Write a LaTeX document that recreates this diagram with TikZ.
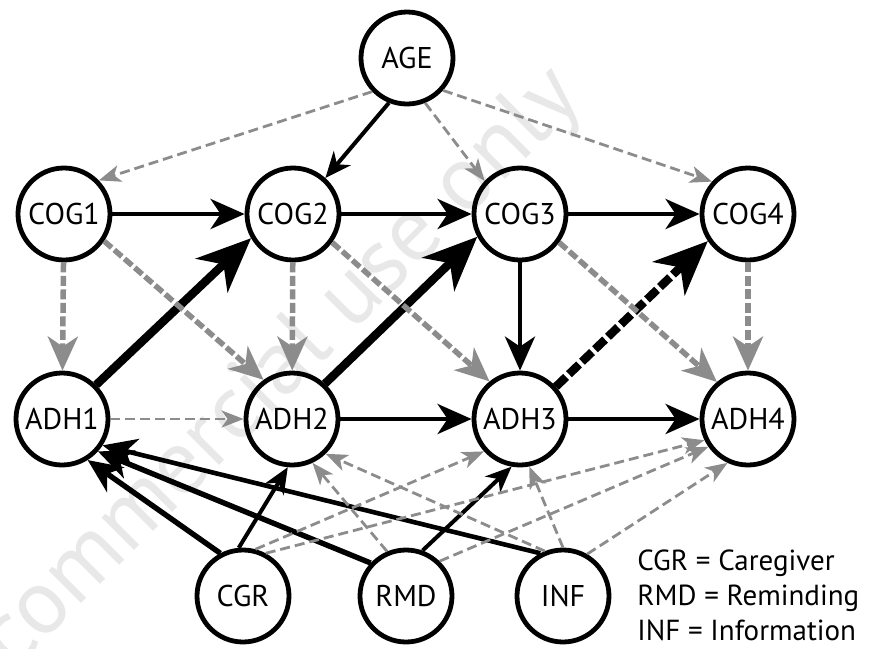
\documentclass[tikz,border=0pt]{standalone}
\usepackage{fontspec}
\setmainfont{PT Sans}
\usetikzlibrary{arrows.meta}
\definecolor{lightline}{HTML}{8C8C8C}
\definecolor{stamp}{HTML}{E8E8E8}
\begin{document}
\begin{tikzpicture}[x=0.5pt,y=-0.5pt,
  var/.style={circle,draw,line width=2.4pt,minimum size=46pt,inner sep=0pt,
    font=\fontsize{15}{18}\selectfont},
  eff/.style={line width=2.3pt,-{Stealth[length=17pt,width=15pt,inset=5pt]}},
  effs/.style={line width=2pt,-{Stealth[length=13pt,width=11pt,inset=4pt]}},
  big/.style={line width=4.2pt,-{Stealth[length=27pt,width=23pt,inset=8pt]}},
  weak/.style={lightline,line width=1.4pt,dash pattern=on 5pt off 2.5pt,
    -{Stealth[length=11pt,width=8.5pt,inset=3pt]}},
  weakt/.style={lightline,line width=2.75pt,dash pattern=on 5pt off 1.75pt,
    -{Stealth[length=17pt,width=15pt,inset=5pt]}},
  legend/.style={anchor=base west,inner sep=0pt,font=\fontsize{14.5}{17}\selectfont}]
\useasboundingbox (0,0) rectangle (880,649);

% Watermark
\node[stamp,rotate=45,anchor=base east,font=\fontsize{46}{52}\selectfont] (mark) at (590,95) {Non-commercial use only};

% Variables
\node[var] (AGE) at (407,58) {AGE};
\foreach \i/\x in {1/64, 2/293, 3/520, 4/748}
    \node[var] (COG\i) at (\x,214) {COG\i};
\foreach \i/\x in {1/62, 2/292, 3/520, 4/748}
    \node[var] (ADH\i) at (\x,419) {ADH\i};
\node[var] (CGR) at (243,596) {CGR};
\node[var] (RMD) at (406,596) {RMD};
\node[var] (INF) at (563,596) {INF};

% Legend
\foreach \i/\y/\txt in {1/570/{CGR = Caregiver}, 2/605/{RMD = Reminding}, 3/640/{INF = Information}}
    \node[legend] (key\i) at (637,\y) {\txt};

% Cognition chain
\draw[effs] (AGE.-112) -- (COG2.48);
\draw[eff] (COG1) -- (COG2);
\draw[eff] (COG2) -- (COG3);
\draw[eff] (COG3) -- (COG4);
\draw[eff] (COG3) -- (ADH3);

% Adherence chain
\draw[weak] (ADH1) -- (ADH2);
\draw[eff] (ADH2) -- (ADH3);
\draw[eff] (ADH3) -- (ADH4);

% Adherence -> cognition
\draw[big] (ADH1.45) -- (COG2.-150);
\draw[big] (ADH2.47) -- (COG3.-152);
\draw[big,dash pattern=on 7pt off 2pt] (ADH3.42) -- (COG4.-146);

% Age
\draw[weak] (AGE.-136) -- (COG1.44);
\draw[weak] (AGE.-68) -- (COG3.137);
\draw[weak] (AGE.-42) -- (COG4.138);

% Cognition -> adherence
\draw[weakt] (COG1) -- (ADH1);
\draw[weakt] (COG2) -- (ADH2);
\draw[weakt] (COG4) -- (ADH4);
\draw[weakt] (COG1.-34) -- (ADH2.126);
\draw[weakt] (COG2.-36) -- (ADH3.129);
\draw[weakt] (COG3.-36) -- (ADH4.130);

% Interventions
\draw[eff,line width=2.7pt] (CGR.118) -- (ADH1.-58);
\draw[eff,line width=2.7pt] (RMD.137) -- (ADH1.-42);
\draw[eff] (INF.118) -- (ADH1.-33);
\draw[effs] (CGR.95) -- (ADH2.-95);
\draw[effs] (RMD.70) -- (ADH3.-100);
\draw[weak] (CGR.75) -- (ADH3.-138);
\draw[weak] (CGR.62) -- (ADH4.-154);
\draw[weak] (RMD.113) -- (ADH2.-65);
\draw[weak] (RMD.46) -- (ADH4.-145);
\draw[weak] (INF.112) -- (ADH2.-46);
\draw[weak] (INF.90) -- (ADH3.-79);
\draw[weak] (INF.60) -- (ADH4.-115);
\end{tikzpicture}
\end{document}
